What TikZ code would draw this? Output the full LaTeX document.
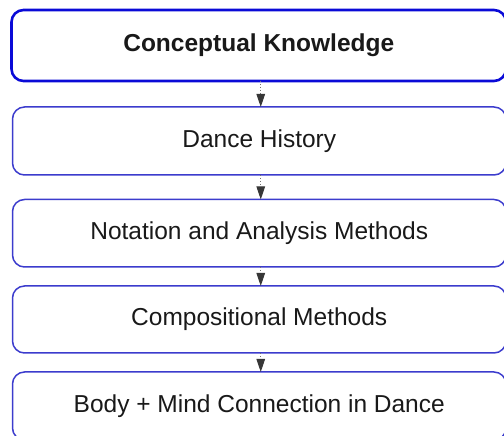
\documentclass[tikz,border=0pt]{standalone}
\usepackage{fontspec}
\setmainfont{Liberation Sans}
\usetikzlibrary{arrows.meta}
\definecolor{topblue}{RGB}{10,10,215}
\definecolor{boxblue}{RGB}{60,60,205}
\definecolor{arrgray}{RGB}{55,55,55}
\definecolor{txt}{RGB}{25,25,25}
\tikzset{
  box/.style={draw=boxblue, line width=1.5pt, rounded corners=12pt, fill=white,
    inner sep=0pt, outer sep=0pt, text=txt,
    font=\fontsize{24.5}{29}\selectfont},
  topbox/.style={box, draw=topblue, line width=2.6pt, font=\fontsize{24.5}{29}\selectfont\bfseries},
  flow/.style={draw=arrgray!70, dotted, line width=1pt,
    -{Triangle[width=8.5pt,length=13pt,color=arrgray,fill=arrgray]}},
}
\begin{document}
\begin{tikzpicture}[x=1pt,y=1pt]
\useasboundingbox (0,0) rectangle (504,436);
\node[topbox, minimum width=494.5pt, minimum height=71pt] (n1) at (258.75,{436-45.5}) {Conceptual Knowledge};
\node[box, minimum width=493.5pt, minimum height=68pt] (n2) at (259.25,{436-141}) {Dance History};
\node[box, minimum width=493.5pt, minimum height=67.5pt] (n3) at (259.25,{436-233.25}) {Notation and Analysis Methods};
\node[box, minimum width=493.5pt, minimum height=67pt] (n4) at (259.25,{436-319.5}) {Compositional Methods};
\node[box, minimum width=493.5pt, minimum height=68pt] (n5) at (259.25,{436-406}) {Body + Mind Connection in Dance};
\draw[flow] ([xshift=2pt]n1.south) -- ([xshift=1.5pt]n2.north);
\draw[flow] ([xshift=1.5pt]n2.south) -- ([xshift=1.5pt]n3.north);
\draw[flow] ([xshift=1.5pt]n3.south) -- ([xshift=1.5pt]n4.north);
\draw[flow] ([xshift=1.5pt]n4.south) -- ([xshift=1.5pt]n5.north);
\end{tikzpicture}
\end{document}
